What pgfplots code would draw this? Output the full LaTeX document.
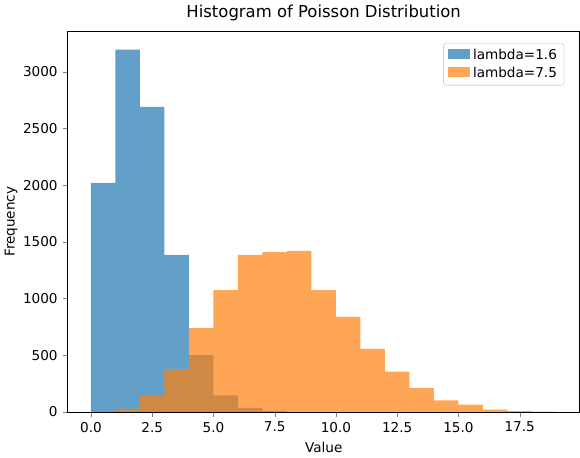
\documentclass[border=0pt]{standalone}
\usepackage{pgfplots}
\pgfplotsset{compat=1.18}
\usepackage{fontspec}
\setmainfont{DejaVu Sans}
\definecolor{c0}{HTML}{1F77B4}
\definecolor{c1}{HTML}{FF7F0E}
\begin{document}
\begin{tikzpicture}
\begin{axis}[
  scale only axis, width=358pt, height=266pt,
  xmin=-0.95, xmax=19.95, ymin=0, ymax=3355,
  xtick={0,2.5,...,17.5},
  xticklabel={\pgfmathprintnumber[fixed,fixed zerofill,precision=1]{\tick}},
  ytick={0,500,...,3000},
  scaled y ticks=false,
  /pgf/number format/assume math mode=true,
  /pgf/number format/1000 sep={},
  tick label style={font=\fontsize{9.5}{11}\selectfont},
  label style={font=\fontsize{9.5}{11}\selectfont},
  xlabel={Value}, ylabel={Frequency},
  ylabel style={yshift=-3pt},
  title={Histogram of Poisson Distribution},
  title style={font=\fontsize{11.5}{14}\selectfont, yshift=-2pt},
  tick align=outside, tick pos=left,
  major tick length=3.5pt,
  legend pos=north east,
  legend style={font=\fontsize{9.5}{11}\selectfont, draw=black!20, rounded corners=2pt},
  legend cell align=left,
  legend image code/.code={\fill[#1, sharp corners] (0cm,-0.1cm) rectangle (0.55cm,0.15cm);},
]
\addplot[ybar interval, draw=none, fill=c0, fill opacity=0.7] coordinates {
(0,2020) (1,3195) (2,2690) (3,1385) (4,500) (5,145) (6,36) (7,9) (8,0)};
\addlegendentry{lambda=1.6}
\addplot[ybar interval, draw=none, fill=c1, fill opacity=0.7] coordinates {
(1,27) (2,140) (3,378) (4,738) (5,1075) (6,1385) (7,1410) (8,1420) (9,1075) (10,838) (11,556) (12,356) (13,209) (14,102) (15,64) (16,20) (17,6) (18,3) (19,0)};
\addlegendentry{lambda=7.5}
\end{axis}
\end{tikzpicture}
\end{document}
